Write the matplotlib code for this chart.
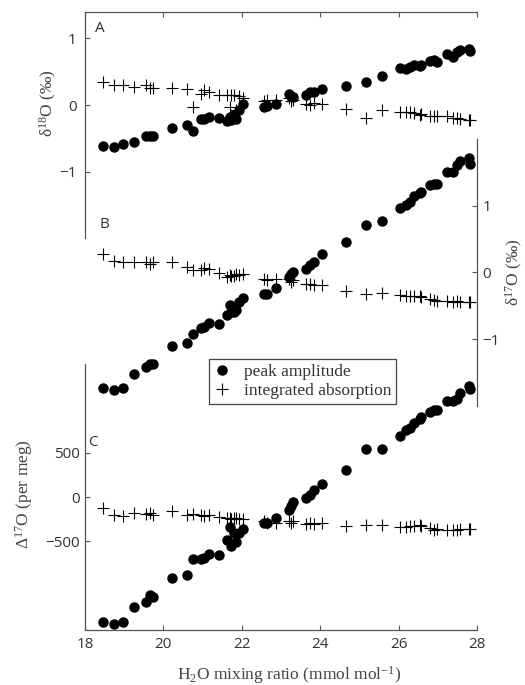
import numpy as np
import matplotlib
matplotlib.use("Agg")
import matplotlib.pyplot as plt
from matplotlib.lines import Line2D

plt.rcParams['font.family'] = ['Open Sans', 'DejaVu Sans']
plt.rcParams['mathtext.fontset'] = 'custom'
plt.rcParams['mathtext.rm'] = 'Liberation Serif'
plt.rcParams['mathtext.it'] = 'Liberation Serif:italic'

# H2O mixing ratio (mmol/mol)
h2o = [18.47, 18.74, 18.96, 19.24, 19.56, 19.66, 19.73, 20.22, 20.60, 20.75,
       20.97, 21.04, 21.16, 21.41, 21.63, 21.69, 21.72, 21.79, 21.86, 21.94,
       22.04, 22.57, 22.64, 22.86, 23.20, 23.25, 23.30, 23.64, 23.74, 23.83,
       24.05, 24.66, 25.16, 25.58, 26.03, 26.20, 26.28, 26.38, 26.54, 26.57,
       26.79, 26.89, 26.98, 27.23, 27.40, 27.49, 27.57, 27.79, 27.83]

# panel A: d18O
d18_peak = [-0.61, -0.63, -0.585, -0.55, -0.46, -0.46, -0.46, -0.34, -0.305, -0.39,
            -0.215, -0.21, -0.175, -0.20, -0.24, -0.185, -0.22, -0.15, -0.21, -0.075,
            0.01, -0.025, -0.015, 0.02, 0.165, 0.135, 0.125, 0.155, 0.195, 0.195,
            0.245, 0.285, 0.34, 0.435, 0.55, 0.545, 0.575, 0.60, 0.585, 0.60,
            0.665, 0.675, 0.65, 0.765, 0.725, 0.80, 0.825, 0.835, 0.805]
d18_int = [0.34, 0.30, 0.30, 0.265, 0.30, 0.25, 0.26, 0.25, 0.24, -0.035,
           0.17, 0.22, 0.19, 0.15, 0.15, -0.03, 0.15, 0.15, -0.08, 0.14,
           0.10, 0.06, 0.08, 0.08, 0.10, 0.06, 0.08, 0.02, 0.0, 0.03,
           0.01, -0.06, -0.20, -0.08, -0.10, -0.11, -0.10, -0.12, -0.15, -0.14,
           -0.16, -0.16, -0.17, -0.16, -0.20, -0.20, -0.21, -0.22, -0.23]

# panel B: d17O
d17_peak = [-1.74, -1.76, -1.73, -1.53, -1.42, -1.37, -1.37, -1.11, -1.055, -0.92,
            -0.83, -0.82, -0.76, -0.78, -0.64, -0.49, -0.60, -0.59, -0.57, -0.44,
            -0.38, -0.32, -0.32, -0.24, -0.075, -0.025, 0.01, 0.05, 0.11, 0.15,
            0.27, 0.45, 0.71, 0.77, 0.96, 1.01, 1.05, 1.15, 1.19, 1.20,
            1.31, 1.33, 1.33, 1.50, 1.50, 1.61, 1.67, 1.72, 1.62]
d17_int = [0.28, 0.17, 0.155, 0.155, 0.16, 0.13, 0.15, 0.155, 0.08, 0.04,
           0.03, 0.06, 0.05, -0.01, -0.07, -0.04, -0.05, -0.05, -0.03, -0.04,
           -0.03, -0.10, -0.11, -0.10, -0.10, -0.14, -0.12, -0.18, -0.17, -0.19,
           -0.19, -0.28, -0.32, -0.31, -0.34, -0.35, -0.36, -0.36, -0.36, -0.37,
           -0.40, -0.42, -0.43, -0.43, -0.44, -0.43, -0.44, -0.44, -0.44]

# panel C: D17O (per meg)
D17_peak = [-1408, -1427, -1408, -1238, -1181, -1106, -1125, -917, -879, -702,
            -702, -690, -645, -657, -485, -341, -552, -410, -504, -402,
            -364, -294, -294, -238, -143, -106, -60, -11, 26, 75,
            151, 309, 536, 547, 687, 755, 781, 838, 883, 906,
            959, 977, 981, 1080, 1083, 1100, 1169, 1251, 1214]
D17_int = [-125, -200, -219, -181, -189, -181, -200, -162, -200, -189,
           -200, -211, -200, -226, -238, -238, -245, -238, -238, -249,
           -249, -275, -294, -294, -275, -294, -275, -302, -294, -302,
           -294, -325, -313, -313, -340, -340, -332, -332, -313, -325,
           -351, -370, -362, -370, -370, -377, -362, -362, -362]

spine_col = '#555555'
text_col = '#333333'
dot = dict(ls='none', marker='o', ms=6.5, color='black', mec='black')
plus = dict(ls='none', marker='+', ms=9, mew=0.8, color='black')

fig = plt.figure(figsize=(5.25, 6.85), dpi=100)
L, W = 0.1619, 0.7467
axA = fig.add_axes([L, 0.6523, W, 0.3305])
axB = fig.add_axes([L, 0.4077, W, 0.3895])
axC = fig.add_axes([L, 0.0803, W, 0.3883])

for ax in (axA, axB, axC):
    ax.patch.set_visible(False)
    ax.set_xlim(18, 28)
    for s in ax.spines.values():
        s.set_visible(False)
        s.set_color(spine_col)
        s.set_linewidth(0.9)
    ax.tick_params(direction='in', length=3.5, width=0.8, color=spine_col,
                   labelcolor=text_col, labelsize=11)

axA.plot(h2o, d18_peak, **dot)
axA.plot(h2o, d18_int, **plus)
axA.set_ylim(-2, 1.4)
axA.set_yticks([-1, 0, 1])
axA.set_xticks(np.arange(18, 29, 2))
axA.spines['left'].set_visible(True)
axA.spines['top'].set_visible(True)
axA.tick_params(axis='x', top=True, bottom=False, labeltop=False, labelbottom=False)
axA.tick_params(axis='y', pad=6)

axB.plot(h2o, d17_peak, **dot)
axB.plot(h2o, d17_int, **plus)
axB.set_ylim(-2, 2)
axB.set_yticks([-1, 0, 1])
axB.spines['right'].set_visible(True)
axB.yaxis.tick_right()
axB.tick_params(axis='y', left=False, right=True, labelleft=False, labelright=True, pad=4)
axB.tick_params(axis='x', bottom=False, labelbottom=False)

axC.plot(h2o, D17_peak, **dot)
axC.plot(h2o, D17_int, **plus)
axC.set_ylim(-1500, 1500)
axC.set_yticks([-500, 0, 500])
axC.set_xticks(np.arange(18, 29, 2))
axC.spines['left'].set_visible(True)
axC.spines['bottom'].set_visible(True)
axC.tick_params(axis='y', pad=4)
axC.tick_params(axis='x', pad=5)

H = 685.0
def ft(x, y, s, **kw):
    fig.text(x / 525.0, 1 - y / H, s, **kw)

lab = dict(family='Liberation Serif', fontsize=12.5, color='#444444',
           ha='center', va='center')
ft(48, 103, 'δ$^{18}$O (‰)', rotation=90, **lab)
ft(514, 272, 'δ$^{17}$O (‰)', rotation=90, **lab)
ft(24, 494, 'Δ$^{17}$O (per meg)', rotation=90, **lab)
ft(289, 675, 'H$_2$O mixing ratio (mmol mol$^{-1}$)', **lab)

pan = dict(fontsize=11, color=text_col, ha='center', va='center')
ft(100, 28, 'A', **pan)
ft(104, 225, 'B', **pan)
ft(93, 443, 'C', **pan)

handles = [Line2D([], [], **dot), Line2D([], [], **plus)]
leg = fig.legend(handles, ['peak amplitude', 'integrated absorption'],
                 loc='lower left', bbox_to_anchor=(209 / 525.0, 1 - 404 / H),
                 borderaxespad=0, fancybox=False, framealpha=1,
                 handlelength=0.9, handletextpad=0.8, labelspacing=0.15,
                 borderpad=0.3, prop={'family': 'Liberation Serif', 'size': 12.5})
leg.get_frame().set_edgecolor('#444444')
leg.get_frame().set_linewidth(0.9)
for t in leg.get_texts():
    t.set_color('#333333')

fig.savefig('out.png', dpi=100)
